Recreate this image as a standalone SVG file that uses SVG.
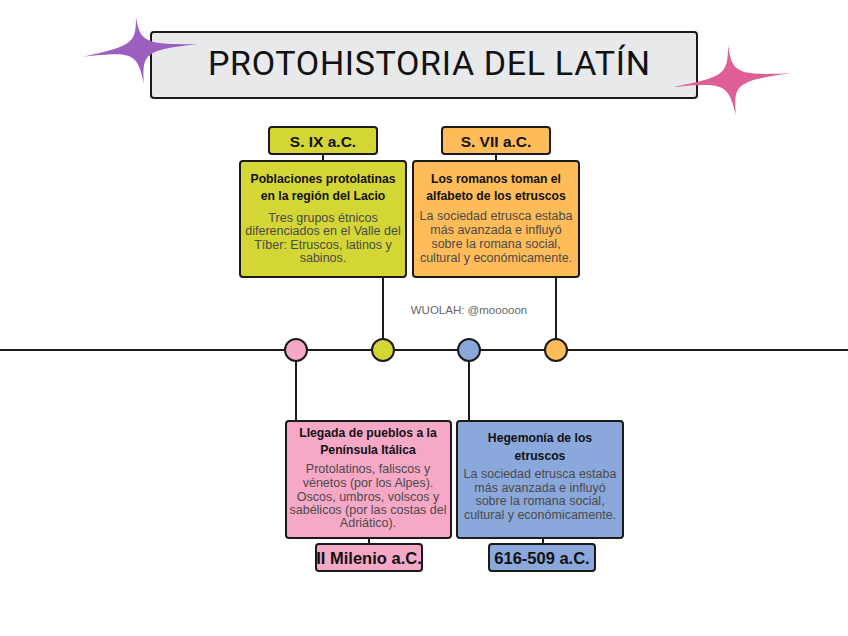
<svg xmlns="http://www.w3.org/2000/svg" width="848" height="636" viewBox="0 0 848 636">
<style>
.box{stroke:#1a1a1a;stroke-width:2}
.ln{stroke:#1a1a1a;stroke-width:2;fill:none}
.lbl{font-family:"Liberation Sans",Arial,sans-serif;font-weight:bold;font-size:15.5px;fill:#111;text-anchor:middle}
.lbl2{font-family:"Liberation Sans",Arial,sans-serif;font-weight:bold;font-size:16.5px;fill:#111;text-anchor:middle}
.hd{font-family:"Liberation Sans",Arial,sans-serif;font-weight:bold;font-size:12.2px;fill:#111;text-anchor:middle}
.bd{font-family:"Liberation Sans",Arial,sans-serif;font-size:12.5px;fill:#4a4a4a;text-anchor:middle}
.green{fill:#d4d635}
.orange{fill:#ffbc58}
.pink{fill:#f7a8c6}
.blue{fill:#8aa8dc}
</style>
<rect width="848" height="636" fill="#ffffff"/>
<g id="title">
<rect x="151" y="32" width="546" height="66" rx="3" fill="#e8e9eb" class="box"/>
<text x="208" y="75" font-family="Roboto,'Liberation Sans',sans-serif" font-size="34" fill="#111" textLength="442" lengthAdjust="spacing">PROTOHISTORIA DEL LATÍN</text>
</g>
<g id="sparkle-purple">
<path d="M136,17 C140,42 145,45 198,44 C145,50 142,53 144,84 C137,53 134,51 82,57 C133,46 136,43 136,17 Z" fill="#9b5fc0"/>
</g>
<g id="sparkle-pink">
<path d="M728,45 C732,73 737,76 791,73 C737,81 733,84 736,115 C728,84 725,82 673,87 C725,77 728,74 728,45 Z" fill="#e05e96"/>
</g>
<g id="connectors">
<line class="ln" x1="0" y1="350" x2="848" y2="350"/>
<line class="ln" x1="323" y1="154" x2="323" y2="161"/>
<line class="ln" x1="496" y1="154" x2="496" y2="161"/>
<line class="ln" x1="383" y1="277" x2="383" y2="350"/>
<line class="ln" x1="556" y1="277" x2="556" y2="350"/>
<line class="ln" x1="296" y1="350" x2="296" y2="421"/>
<line class="ln" x1="469" y1="350" x2="469" y2="421"/>
<line class="ln" x1="369" y1="538" x2="369" y2="544"/>
<line class="ln" x1="543" y1="538" x2="543" y2="544"/>
</g>
<g id="dots">
<circle cx="296" cy="350" r="11" class="box pink"/>
<circle cx="383" cy="350" r="11" class="box green"/>
<circle cx="469" cy="350" r="11" class="box blue"/>
<circle cx="556" cy="350" r="11" class="box orange"/>
</g>
<g id="node-six">
<rect x="269" y="127" width="108" height="27" rx="3" class="box green"/>
<text x="323" y="147" class="lbl">S. IX a.C.</text>
<rect x="240" y="161" width="166" height="116" rx="3" class="box green"/>
<text x="323" y="183" class="hd">Poblaciones protolatinas</text>
<text x="323" y="200" class="hd">en la región del Lacio</text>
<text x="323" y="222" class="bd">Tres grupos étnicos</text>
<text x="323" y="235" class="bd">diferenciados en el Valle del</text>
<text x="323" y="249" class="bd">Tíber: Etruscos, latinos y</text>
<text x="323" y="262" class="bd">sabinos.</text>
</g>
<g id="node-svii">
<rect x="442" y="127" width="108" height="27" rx="3" class="box orange"/>
<text x="496" y="147" class="lbl">S. VII a.C.</text>
<rect x="413" y="161" width="166" height="116" rx="3" class="box orange"/>
<text x="496" y="183" class="hd">Los romanos toman el</text>
<text x="496" y="200" class="hd">alfabeto de los etruscos</text>
<text x="496" y="220" class="bd">La sociedad etrusca estaba</text>
<text x="496" y="234" class="bd">más avanzada e influyó</text>
<text x="496" y="248" class="bd">sobre la romana social,</text>
<text x="496" y="262" class="bd">cultural y económicamente.</text>
</g>
<g id="node-milenio">
<rect x="286" y="421" width="165" height="117" rx="3" class="box pink"/>
<text x="368" y="437" class="hd">Llegada de pueblos a la</text>
<text x="368" y="454" class="hd">Península Itálica</text>
<text x="368" y="473" class="bd">Protolatinos, faliscos y</text>
<text x="368" y="487" class="bd">vénetos (por los Alpes).</text>
<text x="368" y="501" class="bd">Oscos, umbros, volscos y</text>
<text x="368" y="514" class="bd">sabélicos (por las costas del</text>
<text x="368" y="527" class="bd">Adriático).</text>
<rect x="316" y="544" width="106" height="27" rx="3" class="box pink"/>
<text x="369" y="564" class="lbl2">II Milenio a.C.</text>
</g>
<g id="node-etruscos">
<rect x="457" y="421" width="166" height="117" rx="3" class="box blue"/>
<text x="540" y="442" class="hd" font-size="14">Hegemonía de los</text>
<text x="540" y="460" class="hd" font-size="14">etruscos</text>
<text x="540" y="478" class="bd">La sociedad etrusca estaba</text>
<text x="540" y="492" class="bd">más avanzada e influyó</text>
<text x="540" y="505" class="bd">sobre la romana social,</text>
<text x="540" y="519" class="bd">cultural y económicamente.</text>
<rect x="489" y="544" width="106" height="27" rx="3" class="box blue"/>
<text x="542" y="564" class="lbl2">616-509 a.C.</text>
</g>
<text x="469" y="314" font-family="'Liberation Sans',Arial,sans-serif" font-size="11.5" fill="#666" text-anchor="middle">WUOLAH: @mooooon</text>
</svg>
